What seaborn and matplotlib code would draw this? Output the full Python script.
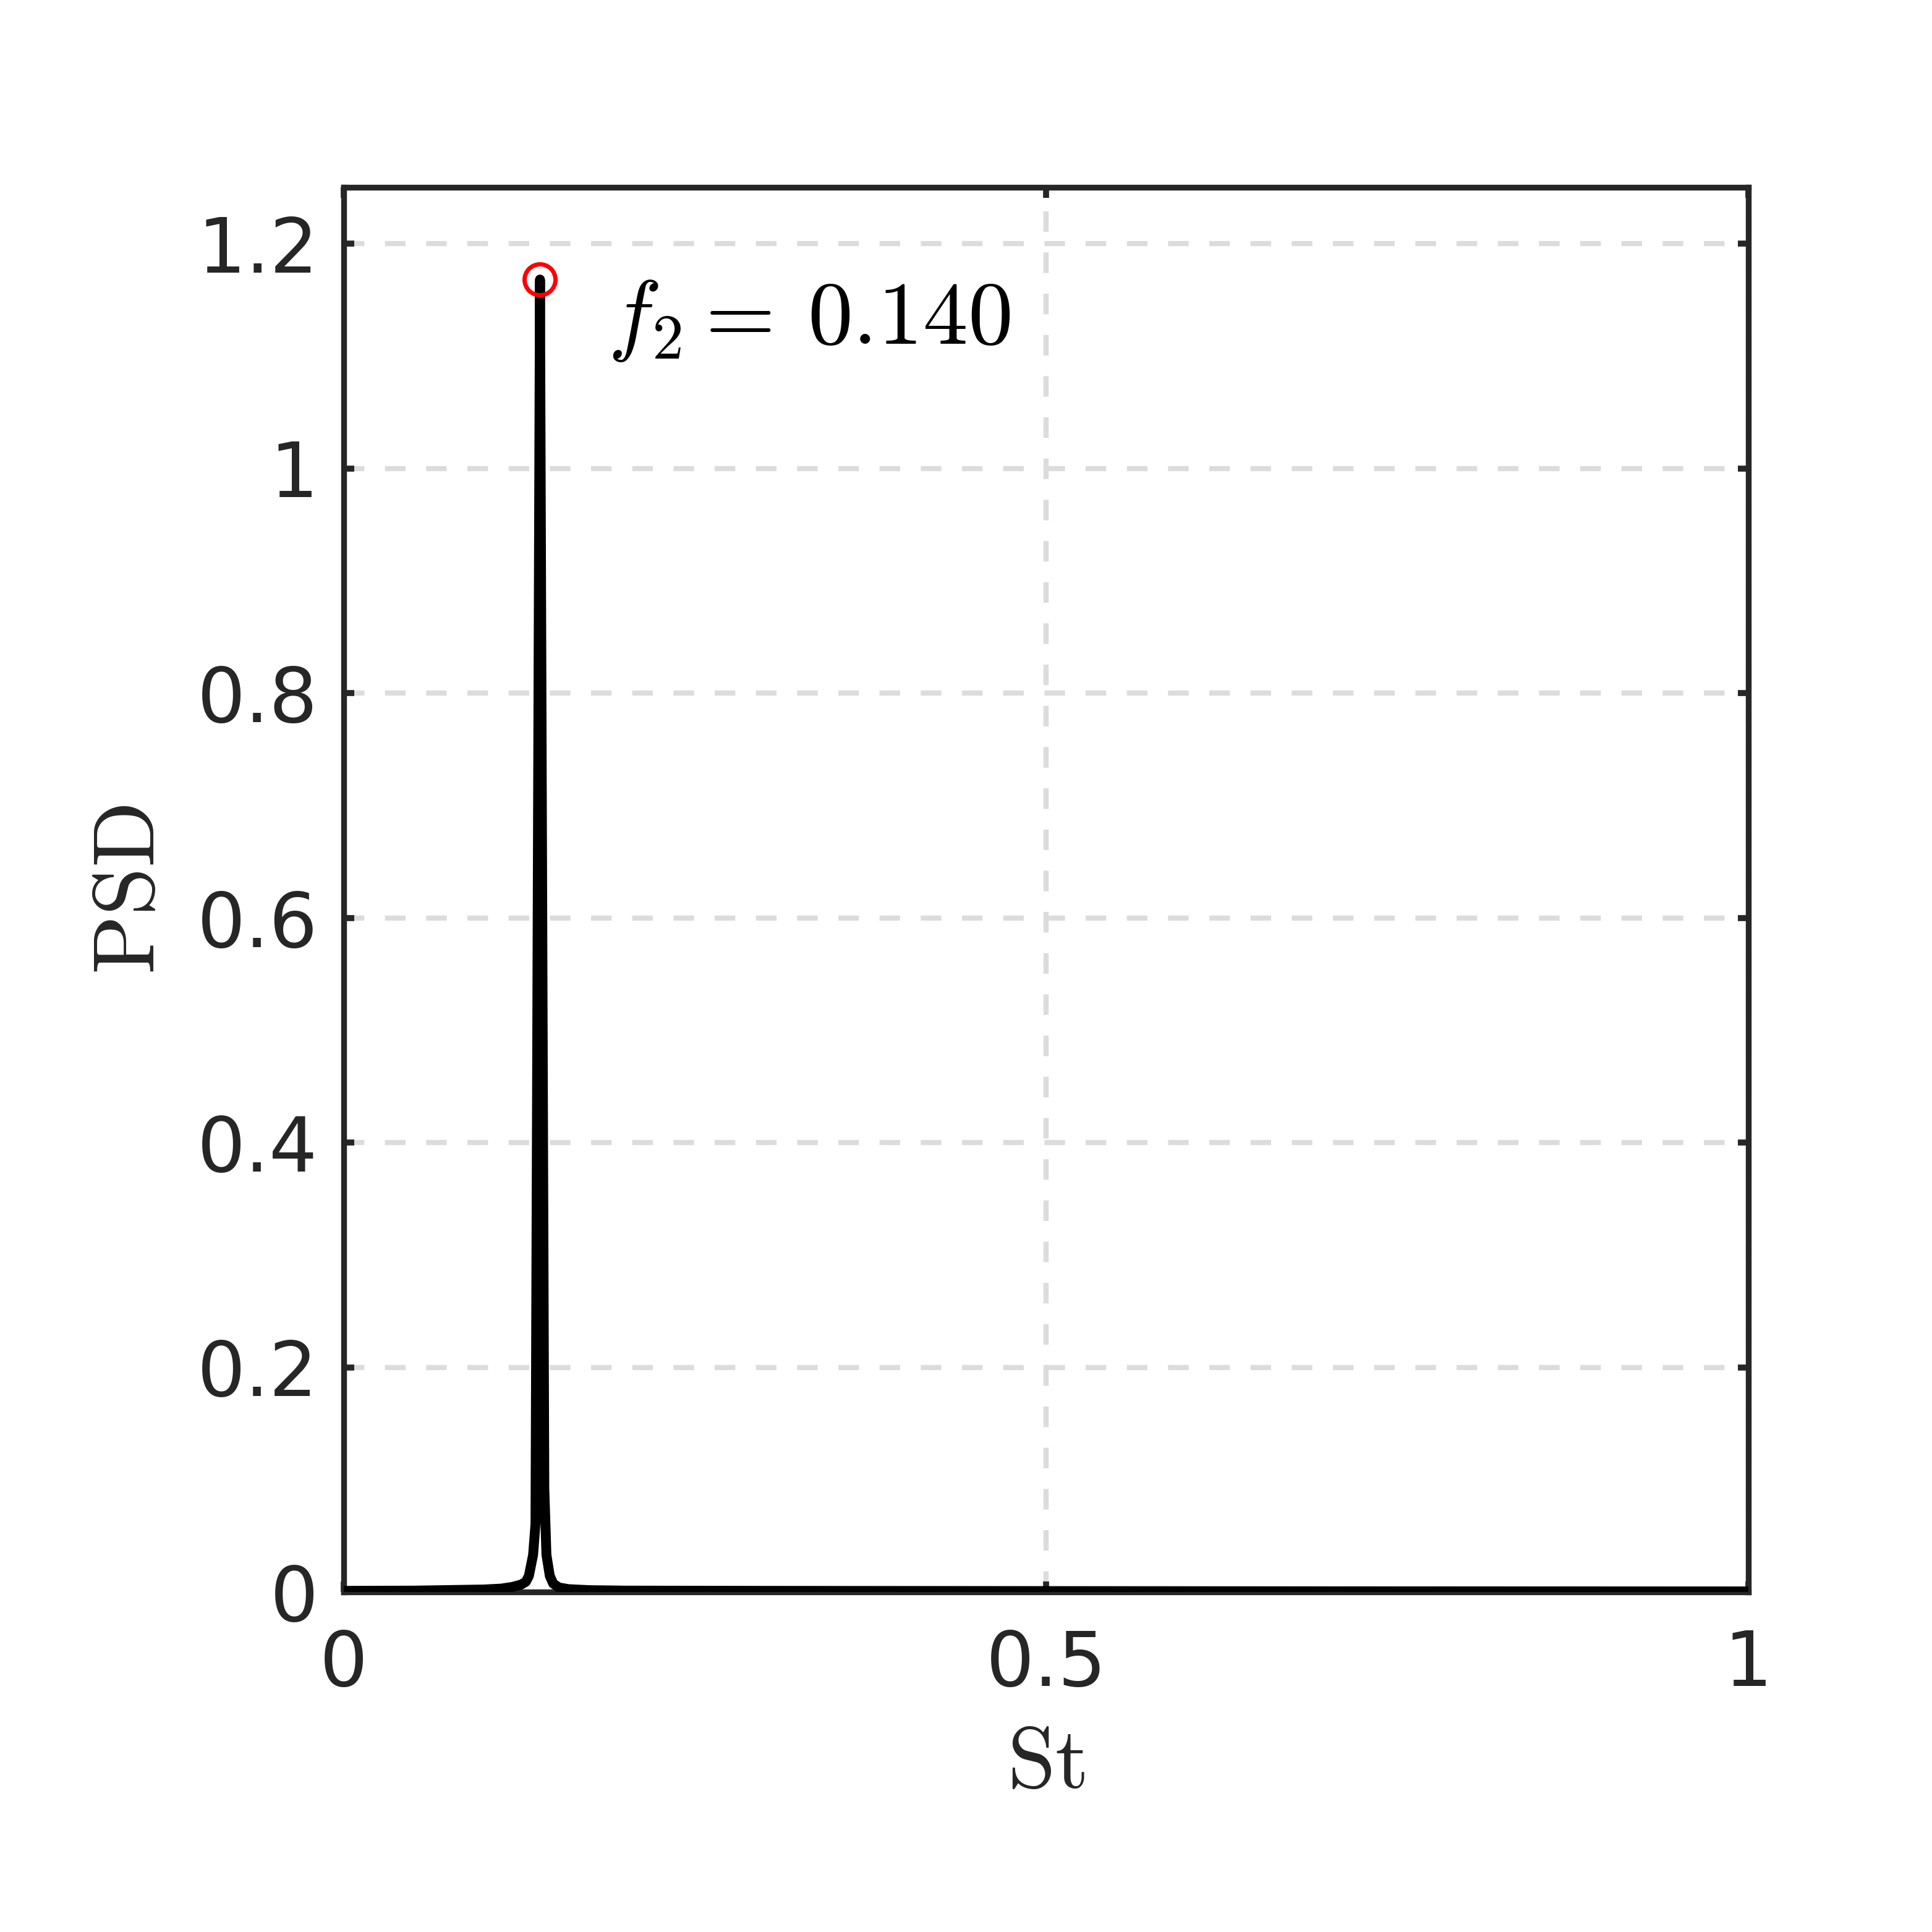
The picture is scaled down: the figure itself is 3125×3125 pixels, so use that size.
import matplotlib
matplotlib.use("Agg")
import matplotlib.pyplot as plt
import seaborn as sns
import numpy as np
import pandas as pd

# spectrum (Strouhal number vs PSD)
st = [0.0, 0.05, 0.10, 0.112, 0.120, 0.126, 0.1295, 0.1317, 0.1347, 0.1364,
      0.1396, 0.1427, 0.1442, 0.1466, 0.1490, 0.153, 0.160, 0.175, 0.20,
      0.30, 0.50, 0.70, 1.0]
psd = [0.001, 0.0012, 0.0022, 0.003, 0.0045, 0.0065, 0.009, 0.0143, 0.033, 0.0605,
       1.168, 0.092, 0.033, 0.0143, 0.0075, 0.004, 0.0025, 0.0016, 0.0012,
       0.001, 0.0008, 0.0006, 0.0005]
peak_st = 0.1396
peak_psd = 1.168
peak_name = r"$f_2 =$"
peak_value = r"$0.140$"

x_ticks = [0, 0.5, 1]
x_ticklabels = ["0", "0.5", "1"]
y_ticks = [0, 0.2, 0.4, 0.6, 0.8, 1.0, 1.2]
y_ticklabels = ["0", "0.2", "0.4", "0.6", "0.8", "1", "1.2"]

sns.set_theme(style="ticks")
plt.rcParams["mathtext.fontset"] = "cm"
plt.rcParams["font.family"] = ["DejaVu Sans"]

df = pd.DataFrame({"St": st, "PSD": psd})

fig, ax = plt.subplots(figsize=(6.25, 6.25), dpi=500)
fig.subplots_adjust(left=0.178, right=0.905, bottom=0.176, top=0.903)

sns.lineplot(data=df, x="St", y="PSD", color="black", linewidth=2.3,
             estimator=None, sort=False, ax=ax, zorder=3,
             solid_joinstyle="round", solid_capstyle="round")
ax.plot([peak_st], [peak_psd], marker="o", markersize=7.2, markerfacecolor="none",
        markeredgecolor="red", markeredgewidth=1.0, linestyle="none", zorder=4)
# label split in two so the gap after "=" matches the LaTeX spacing
ax.text(0.188, 1.111, peak_name, fontsize=21, ha="left", va="baseline", color="black")
ax.text(0.330, 1.111, peak_value, fontsize=21, ha="left", va="baseline", color="black")

ax.set_xlim(0, 1)
ax.set_ylim(0, 1.25)
ax.set_xticks(x_ticks)
ax.set_xticklabels(x_ticklabels)
ax.set_yticks(y_ticks)
ax.set_yticklabels(y_ticklabels)
ax.tick_params(direction="in", top=True, right=True, length=2.5, width=1.4,
               labelsize=17.7, colors="#262626")
ax.tick_params(axis="x", pad=8.3)
ax.tick_params(axis="y", pad=6)
ax.grid(True, color="#dcdcdc", linewidth=1.2, linestyle=(0, (4, 4)))
ax.set_axisbelow(True)
for sp in ax.spines.values():
    sp.set_visible(True)
    sp.set_linewidth(1.35)
    sp.set_color("#262626")

ax.set_xlabel(r"$\mathrm{St}$", fontsize=20.2, color="#262626", labelpad=4.5)
ax.set_ylabel(r"$\mathrm{PSD}$", fontsize=20.2, color="#262626", labelpad=5.9)

fig.savefig("out.png", dpi=500)
